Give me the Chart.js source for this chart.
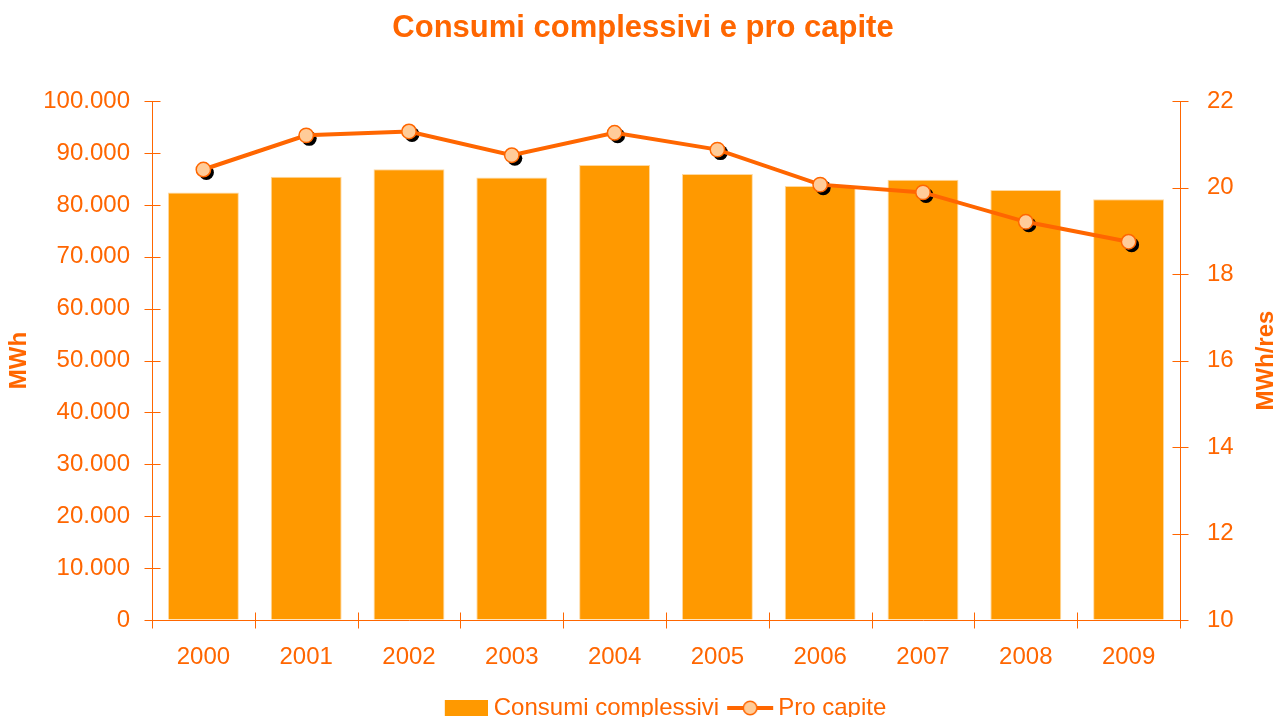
<!DOCTYPE html>
<html lang="it">
<head>
<meta charset="utf-8">
<title>Consumi complessivi e pro capite</title>
<script src="https://cdn.jsdelivr.net/npm/chart.js@4.4.1/dist/chart.umd.min.js"></script>
<style>
  html, body { margin: 0; padding: 0; background: #fff; overflow: hidden; }
  canvas { display: block; }
</style>
</head>
<body>
<canvas id="graficoConsumi" width="1286" height="730"></canvas>
<script>
/* ==========================================================================
   1. DATI
   ========================================================================== */
const anni = ['2000', '2001', '2002', '2003', '2004', '2005', '2006', '2007', '2008', '2009'];
const consumiComplessivi = [82400, 85450, 86900, 85300, 87700, 85950, 83650, 84850, 82900, 81100]; // MWh
const proCapite = [20.42, 21.21, 21.30, 20.75, 21.27, 20.88, 20.07, 19.89, 19.21, 18.75]; // MWh/res
const tickMWh = [0, 10000, 20000, 30000, 40000, 50000, 60000, 70000, 80000, 90000, 100000];
const tickProCapite = [10, 12, 14, 16, 18, 20, 22];

const arancio = '#FF6600';
const arancioBarre = '#FF9900';
const pescaPunti = '#FFCC99';
const font = '"Liberation Sans", Arial, sans-serif';

// separatore delle migliaia all'italiana (100.000)
const formattaMigliaia = (v) => String(v).replace(/\B(?=(\d{3})+(?!\d))/g, '.');

/* ==========================================================================
   2. ICONE DELLA LEGENDA
   ========================================================================== */
function iconaBarra() {
    const c = document.createElement('canvas');
    c.width = 48; c.height = 16;
    const g = c.getContext('2d');
    g.fillStyle = arancioBarre;
    g.fillRect(5, 0, 43, 16);
    return c;
}

function iconaLinea() {
    const c = document.createElement('canvas');
    c.width = 52; c.height = 16;
    const g = c.getContext('2d');
    g.strokeStyle = arancio;
    g.lineWidth = 4;
    g.beginPath(); g.moveTo(5, 8); g.lineTo(51, 8); g.stroke();
    g.beginPath(); g.arc(28, 8, 6.8, 0, Math.PI * 2);
    g.fillStyle = pescaPunti; g.fill();
    g.lineWidth = 1.5; g.stroke();
    return c;
}

const legendaBarra = iconaBarra();
const legendaLinea = iconaLinea();

/* ==========================================================================
   3. PLUGIN: tacche degli assi, ombra dei punti, titolo asse destro
   ========================================================================== */
const taccheAssi = {
    id: 'taccheAssi',
    afterDatasetsDraw(chart) {
        const { ctx, scales: { x, y, y1 } } = chart;
        ctx.save();
        ctx.strokeStyle = arancio;
        ctx.lineWidth = 1;
        ctx.beginPath();
        const xs = Math.round(y.right) + 0.5;
        y.ticks.forEach((t, i) => {
            const py = Math.round(y.getPixelForTick(i)) + 0.5;
            ctx.moveTo(xs - 8, py); ctx.lineTo(xs + 8, py);
        });
        const xd = Math.round(y1.left) + 0.5;
        y1.ticks.forEach((t, i) => {
            const py = Math.round(y1.getPixelForTick(i)) + 0.5;
            ctx.moveTo(xd - 8, py); ctx.lineTo(xd + 8, py);
        });
        const yb = Math.round(x.top) + 0.5;
        for (let i = 0; i <= anni.length; i++) {
            const px = Math.round(x.getPixelForValue(i - 0.5)) + 0.5;
            ctx.moveTo(px, yb - 8); ctx.lineTo(px, yb + 8);
        }
        ctx.stroke();
        ctx.restore();
    }
};

const ombraPunti = {
    id: 'ombraPunti',
    beforeDatasetDraw(chart, args) {
        if (args.index !== 1) return;
        const { ctx } = chart;
        ctx.save();
        ctx.fillStyle = '#000';
        args.meta.data.forEach(p => {
            ctx.beginPath();
            ctx.arc(p.x + 3, p.y + 3, 7.5, 0, Math.PI * 2);
            ctx.fill();
        });
        ctx.restore();
    }
};

const titoloAsseDestro = {
    id: 'titoloAsseDestro',
    afterDraw(chart) {
        const { ctx, chartArea } = chart;
        ctx.save();
        ctx.translate(1266, (chartArea.top + chartArea.bottom) / 2);
        ctx.rotate(-Math.PI / 2);
        ctx.font = 'bold 24px ' + font;
        ctx.fillStyle = arancio;
        ctx.textAlign = 'center';
        ctx.textBaseline = 'middle';
        ctx.fillText('MWh/res', 0, 0);
        ctx.restore();
    }
};

/* ==========================================================================
   4. GRAFICO
   ========================================================================== */
const ctx = document.getElementById('graficoConsumi').getContext('2d');

new Chart(ctx, {
    type: 'bar',
    data: {
        labels: anni,
        datasets: [{
            type: 'bar',
            label: 'Consumi complessivi',
            data: consumiComplessivi,
            yAxisID: 'y',
            backgroundColor: arancioBarre,
            borderColor: '#FFD9A0',
            borderWidth: 1,
            barPercentage: 0.69,
            categoryPercentage: 1,
            order: 1
        }, {
            type: 'line',
            label: 'Pro capite',
            data: proCapite,
            yAxisID: 'y1',
            borderColor: arancio,
            borderWidth: 4,
            tension: 0,
            pointRadius: 7.2,
            pointBackgroundColor: pescaPunti,
            pointBorderColor: arancio,
            pointBorderWidth: 1.5,
            order: 0
        }]
    },
    options: {
        responsive: false,
        animation: false,
        layout: { padding: 0 },
        plugins: {
            tooltip: { enabled: false },
            title: {
                display: true,
                text: 'Consumi complessivi e pro capite',
                color: arancio,
                font: { family: font, size: 31, weight: 'bold' },
                padding: { top: 10, bottom: 54 }
            },
            legend: {
                position: 'bottom',
                fullSize: false,
                labels: {
                    color: arancio,
                    font: { family: font, size: 24 },
                    usePointStyle: true,
                    pointStyleWidth: 36,
                    padding: 11,
                    generateLabels: (chart) => {
                        const voci = Chart.defaults.plugins.legend.labels.generateLabels(chart);
                        voci.sort((a, b) => a.datasetIndex - b.datasetIndex);
                        voci.forEach(v => {
                            v.pointStyle = v.datasetIndex === 0 ? legendaBarra : legendaLinea;
                            v.fontColor = arancio;
                            v.rotation = 0;
                        });
                        return voci;
                    }
                }
            }
        },
        scales: {
            x: {
                offset: true,
                grid: { display: true, drawOnChartArea: false, drawTicks: false, offset: true },
                border: { display: true, color: arancio, width: 1 },
                ticks: { color: arancio, font: { family: font, size: 24 }, padding: 23, maxRotation: 0 },
                afterFit: (scale) => { scale.height = 65; }
            },
            y: {
                position: 'left',
                min: 0,
                max: 100000,
                afterBuildTicks: (scale) => { scale.ticks = tickMWh.map(v => ({ value: v })); },
                grid: { display: true, drawOnChartArea: false, drawTicks: false },
                border: { display: true, color: arancio, width: 1 },
                ticks: {
                    color: arancio,
                    font: { family: font, size: 24 },
                    padding: 22,
                    callback: (v) => formattaMigliaia(v)
                },
                title: {
                    display: true,
                    text: 'MWh',
                    color: arancio,
                    font: { family: font, size: 24, weight: 'bold' },
                    padding: { top: 5, bottom: 0 }
                },
                afterFit: (scale) => { scale.width = 152; }
            },
            y1: {
                position: 'right',
                min: 10,
                max: 22,
                afterBuildTicks: (scale) => { scale.ticks = tickProCapite.map(v => ({ value: v })); },
                grid: { display: true, drawOnChartArea: false, drawTicks: false },
                border: { display: true, color: arancio, width: 1 },
                ticks: { color: arancio, font: { family: font, size: 24 }, padding: 27 },
                afterFit: (scale) => { scale.width = 106; }
            }
        }
    },
    plugins: [taccheAssi, ombraPunti, titoloAsseDestro]
});
</script>
</body>
</html>
